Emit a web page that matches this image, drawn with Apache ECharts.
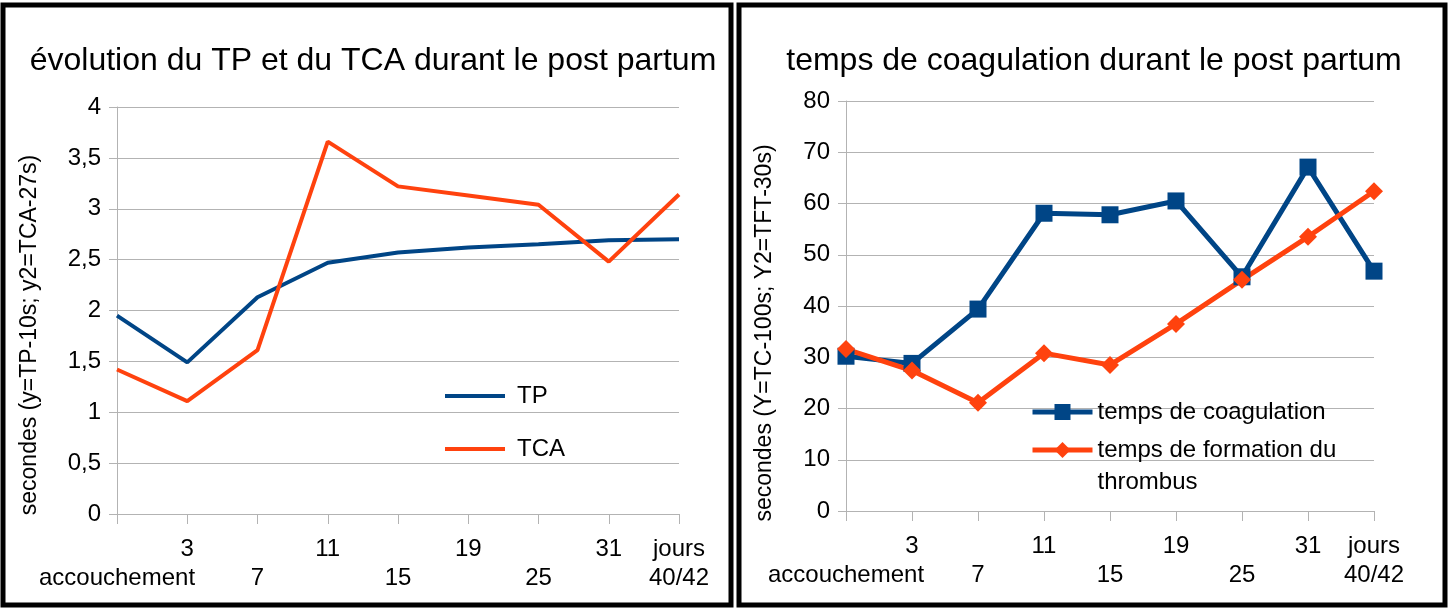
<!DOCTYPE html>
<html>
<head>
<meta charset="utf-8">
<title>post partum</title>
<script src="https://cdn.jsdelivr.net/npm/echarts@6/dist/echarts.min.js"></script>
<style>
	html, body { margin: 0; padding: 0; background: #fff; }
	#main { width: 1450px; height: 611px; }
</style>
</head>
<body>
<div id="main"></div>
<script>
// jours apres l'accouchement
var jours = ['accouchement', '3', '7', '11', '15', '19', '25', '31', '40/42'];

// graphe de gauche (y=TP-10s ; y2=TCA-27s)
var tp = [1.95, 1.49, 2.13, 2.47, 2.57, 2.62, 2.65, 2.69, 2.70];
var tca = [1.42, 1.11, 1.61, 3.66, 3.22, 3.13, 3.04, 2.48, 3.14];

// graphe de droite (Y=TC-100s ; Y2=TFT-30s)
var coagulation = [30.2, 28.8, 39.4, 58.1, 57.8, 60.5, 45.7, 67.1, 46.8];
var thrombus = [31.6, 27.4, 21.1, 30.8, 28.5, 36.5, 45.1, 53.5, 62.4];

var bleu = '#004586';
var orange = '#ff420e';
var gris = '#b3b3b3';
var police = '"Liberation Sans", Arial, sans-serif';

function labelJour(value, index) {
	if (index == jours.length - 1) {
		return 'jours\n' + value;
	}
	if (index % 2 == 1) {
		return value;
	}
	return '\n' + value;
}

function axeX(gridIndex) {
	return {
		type: 'category',
		gridIndex: gridIndex,
		data: jours,
		boundaryGap: false,
		axisLine: { lineStyle: { color: gris, width: 1 } },
		axisTick: { show: true, interval: 0, length: 10, lineStyle: { color: gris } },
		axisLabel: {
			interval: 0,
			margin: 21,
			color: '#000',
			fontFamily: police,
			fontSize: 24,
			lineHeight: 29,
			formatter: labelJour
		},
		splitLine: { show: false }
	};
}

function axeY(gridIndex, max, interval, virgule) {
	return {
		type: 'value',
		gridIndex: gridIndex,
		min: 0,
		max: max,
		interval: interval,
		axisLine: { show: true, lineStyle: { color: gris, width: 1 } },
		axisTick: { show: true, length: 8, lineStyle: { color: gris } },
		axisLabel: {
			margin: 16,
			color: '#000',
			fontFamily: police,
			fontSize: 24,
			formatter: function(v) {
				return virgule ? String(v).replace('.', ',') : String(v);
			}
		},
		splitLine: { show: true, lineStyle: { color: gris, width: 1 } }
	};
}

var chart = echarts.init(document.getElementById('main'));
var option = {
	backgroundColor: '#fff',
	animation: false,
	title: [{
		text: 'évolution du TP et du TCA durant le post partum',
		left: 368,
		top: 40,
		textAlign: 'center',
		textStyle: { fontFamily: police, fontSize: 32, fontWeight: 'normal', color: '#000' }
	}, {
		text: 'temps de coagulation durant le post partum',
		left: 1089,
		top: 40,
		textAlign: 'center',
		textStyle: { fontFamily: police, fontSize: 32, fontWeight: 'normal', color: '#000' }
	}],
	grid: [
		{ left: 117, right: 771, top: 107, bottom: 97 },
		{ left: 846, right: 76, top: 101, bottom: 100 }
	],
	xAxis: [axeX(0), axeX(1)],
	yAxis: [axeY(0, 4, 0.5, true), axeY(1, 80, 10, false)],
	legend: [{
		orient: 'vertical',
		left: 445,
		top: 382,
		padding: 0,
		icon: 'rect',
		itemWidth: 60,
		itemHeight: 4,
		itemGap: 25,
		textStyle: { fontFamily: police, fontSize: 24, color: '#000', lineHeight: 28, padding: [0, 0, 0, 7] },
		data: ['TP', 'TCA']
	}, {
		left: 1030,
		top: 398,
		padding: 0,
		itemWidth: 60,
		itemHeight: 20,
		lineStyle: { width: 5 },
		textStyle: { fontFamily: police, fontSize: 24, color: '#000', lineHeight: 28 },
		data: ['temps de coagulation']
	}, {
		left: 1030,
		top: 402,
		padding: 0,
		itemWidth: 60,
		itemHeight: 20,
		lineStyle: { width: 5 },
		formatter: function() {
			return '\ntemps de formation du\nthrombus';
		},
		textStyle: { fontFamily: police, fontSize: 24, color: '#000', lineHeight: 32 },
		data: ['temps de formation du thrombus']
	}],
	graphic: [{
		type: 'rect',
		shape: { x: 3, y: 5, width: 728, height: 600 },
		style: { fill: null, stroke: '#000', lineWidth: 5 }
	}, {
		type: 'rect',
		shape: { x: 739, y: 5, width: 706, height: 600 },
		style: { fill: null, stroke: '#000', lineWidth: 5 }
	}, {
		type: 'text',
		x: 30,
		y: 335,
		rotation: Math.PI / 2,
		style: {
			text: 'secondes (y=TP-10s; y2=TCA-27s)',
			fontFamily: police,
			fontSize: 23,
			fill: '#000',
			align: 'center',
			verticalAlign: 'middle'
		}
	}, {
		type: 'text',
		x: 765,
		y: 333,
		rotation: Math.PI / 2,
		style: {
			text: 'secondes (Y=TC-100s; Y2=TFT-30s)',
			fontFamily: police,
			fontSize: 23,
			fill: '#000',
			align: 'center',
			verticalAlign: 'middle'
		}
	}],
	series: [{
		name: 'TP',
		type: 'line',
		xAxisIndex: 0,
		yAxisIndex: 0,
		symbol: 'none',
		color: bleu,
		lineStyle: { width: 4 },
		data: tp
	}, {
		name: 'TCA',
		type: 'line',
		xAxisIndex: 0,
		yAxisIndex: 0,
		symbol: 'none',
		color: orange,
		lineStyle: { width: 4 },
		data: tca
	}, {
		name: 'temps de coagulation',
		type: 'line',
		xAxisIndex: 1,
		yAxisIndex: 1,
		symbol: 'rect',
		symbolSize: 17,
		color: bleu,
		lineStyle: { width: 5 },
		data: coagulation
	}, {
		name: 'temps de formation du thrombus',
		type: 'line',
		xAxisIndex: 1,
		yAxisIndex: 1,
		symbol: 'diamond',
		symbolSize: 18,
		color: orange,
		lineStyle: { width: 5 },
		data: thrombus
	}]
};
chart.setOption(option);
</script>
</body>
</html>
